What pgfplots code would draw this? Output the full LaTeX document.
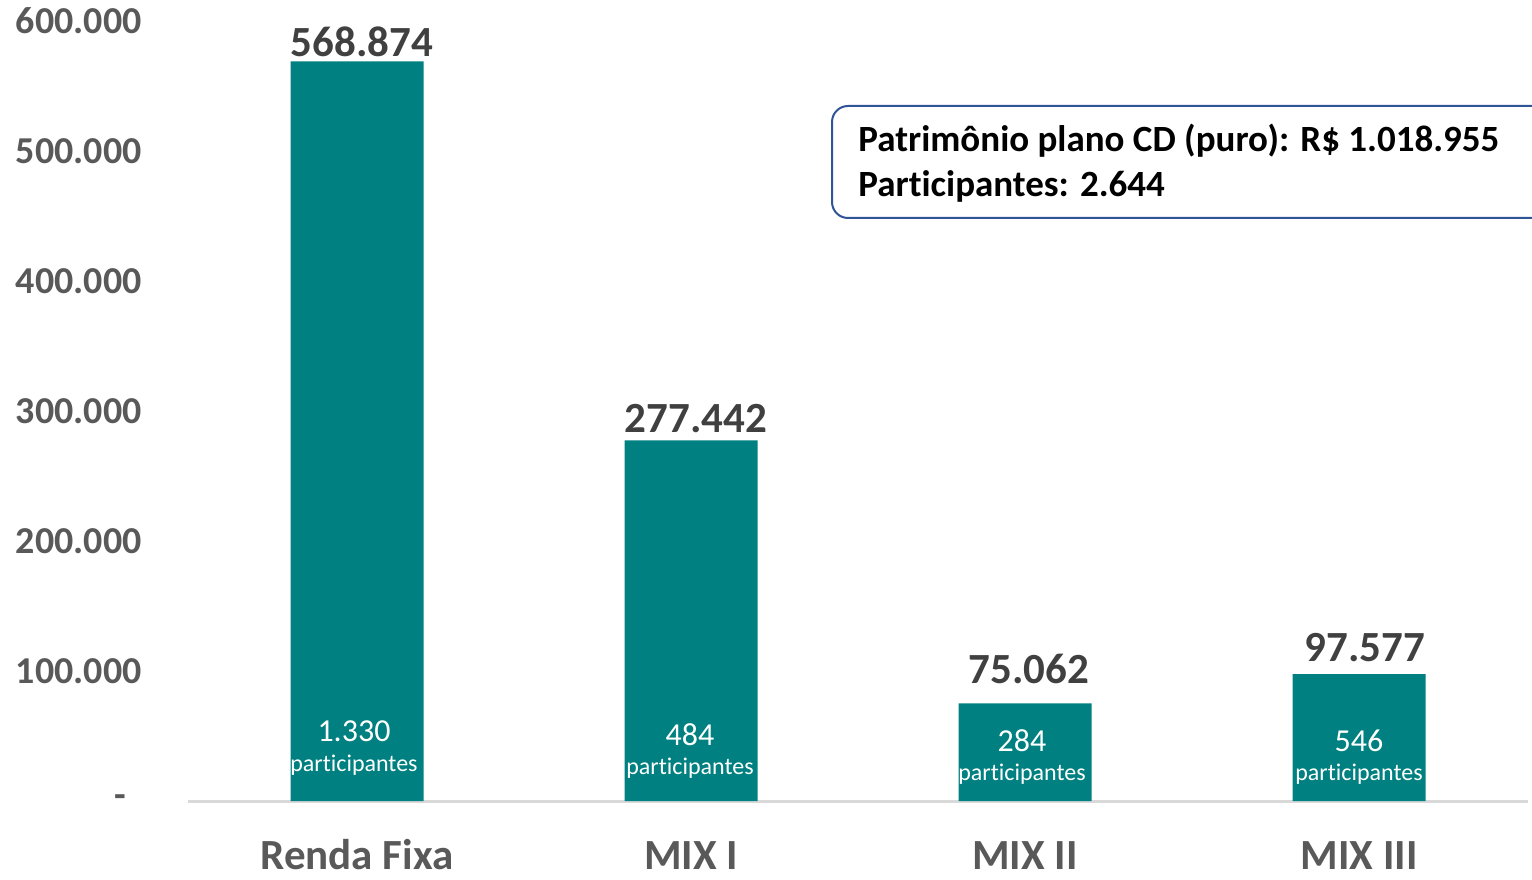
\documentclass[border=0pt]{standalone}
\usepackage{pgfplots}
\pgfplotsset{compat=1.18}
\usepackage{fontspec}
\setmainfont{Carlito}[Ligatures=NoCommon]
\definecolor{barteal}{RGB}{0,128,128}
\definecolor{ticktext}{RGB}{89,89,89}
\definecolor{lbltext}{RGB}{64,64,64}
\definecolor{boxblue}{RGB}{47,85,151}
\definecolor{axisgray}{RGB}{217,217,217}
\begin{document}
\begin{tikzpicture}
\begin{axis}[
  at={(94pt,39pt)}, anchor=south west,
  scale only axis, width=670pt, height=390pt,
  xmin=-0.506, xmax=3.506, ymin=0, ymax=600000,
  axis x line*=bottom, axis y line*=left,
  y axis line style={draw=none},
  x axis line style={draw=axisgray, line width=1.5pt, -},
  major tick length=0pt,
  xtick={0,1,2,3},
  xticklabels={Renda Fixa, MIX I, MIX II, MIX III},
  ytick={0,100000,200000,300000,400000,500000,600000},
  yticklabels={{-\hspace*{7.5pt}},100.000,200.000,300.000,400.000,500.000,600.000},
  scaled y ticks=false,
  yticklabel style={font=\fontsize{19}{22}\selectfont\bfseries, text=ticktext, anchor=east, inner sep=0pt, xshift=-23pt},
  xticklabel style={font=\fontsize{21.5}{24}\selectfont\bfseries, text=ticktext, anchor=base, inner sep=0pt, yshift=-34pt},
  clip=false,
]
\addplot[ybar, bar width=66.5pt, fill=barteal, draw=none] coordinates {(0,568874) (1,277442) (2,75062) (3,97577)};
% value labels
\addplot[draw=none, mark=none, point meta=explicit symbolic, nodes near coords,
  every node near coord/.append style={font=\fontsize{21.5}{24}\selectfont\bfseries, text=lbltext, anchor=base, inner sep=0pt}]
  coordinates {(0.015,572308)[568.874] (1.015,283846)[277.442] (2.012,90769)[75.062] (3.018,106923)[97.577]};
% participant counts
\addplot[draw=none, mark=none, point meta=explicit symbolic, nodes near coords,
  every node near coord/.append style={font=\fontsize{16}{18}\selectfont, text=white, anchor=base, inner sep=0pt}]
  coordinates {(-0.009,46000)[1.330] (0.997,43000)[484] (1.991,38300)[284] (3.0,38300)[546]};
\addplot[draw=none, mark=none, point meta=explicit symbolic, nodes near coords,
  every node near coord/.append style={font=\fontsize{12}{14}\selectfont, text=white, anchor=base, inner sep=0pt}]
  coordinates {(-0.009,23077)[participantes] (0.997,20769)[participantes] (1.991,16154)[participantes] (3.0,16154)[participantes]};
\end{axis}
\begin{scope}
\clip (0,0) rectangle (766pt,439.5pt);
\draw[boxblue, line width=1pt, rounded corners=8pt] (416pt,330.5pt) rectangle (790pt,386.5pt);
\end{scope}
\node[anchor=base west, inner sep=0pt, font=\fontsize{18.5}{21}\selectfont\bfseries, text=black] at (429pt,363.5pt) {Patrimônio plano CD (puro): R\$ 1.018.955};
\node[anchor=base west, inner sep=0pt, font=\fontsize{18.5}{21}\selectfont\bfseries, text=black] at (429pt,341pt) {Participantes: 2.644};
\pgfresetboundingbox
\path[use as bounding box] (0,0) rectangle (766pt,439.5pt);
\end{tikzpicture}
\end{document}
